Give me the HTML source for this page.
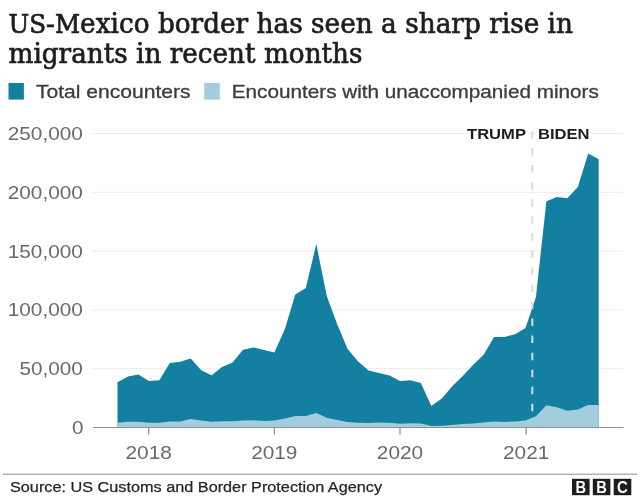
<!DOCTYPE html>
<html><head><meta charset="utf-8"><style>
html,body{margin:0;padding:0;background:#fff;}
body{width:640px;height:502px;overflow:hidden;position:relative;font-family:"Liberation Sans",sans-serif;}
svg{position:absolute;left:0;top:0}
svg text{font-family:"Liberation Sans",sans-serif;}
svg text.t{font-family:"DejaVu Serif","Liberation Serif",serif;font-size:27px;fill:#1e1e1e;stroke:#1e1e1e;stroke-width:0.7px}
</style></head><body>
<svg width="640" height="502" viewBox="0 0 640 502">
<text class="t" x="8.5" y="33" textLength="564.5" lengthAdjust="spacingAndGlyphs"><tspan font-size="25.2">US</tspan>-<tspan font-size="25.2">M</tspan>exico border has seen a sharp rise in</text>
<text class="t" x="8.5" y="62.8" textLength="354" lengthAdjust="spacingAndGlyphs">migrants in recent months</text>
<rect x="8.5" y="83" width="15.4" height="16.6" fill="#1380A1"/>
<text x="36" y="98.3" font-size="18.5" fill="#3c3c3c" stroke="#3c3c3c" stroke-width="0.3" textLength="154.5" lengthAdjust="spacingAndGlyphs">Total encounters</text>
<rect x="204.2" y="83" width="15.6" height="16.6" fill="#A3CDDC"/>
<text x="231.8" y="98.3" font-size="18.5" fill="#3c3c3c" stroke="#3c3c3c" stroke-width="0.3" textLength="367" lengthAdjust="spacingAndGlyphs">Encounters with unaccompanied minors</text>
<g stroke="#ececec" stroke-width="1"><line x1="92" x2="623" y1="133.5" y2="133.5"/><line x1="92" x2="623" y1="192.3" y2="192.3"/><line x1="92" x2="623" y1="251.1" y2="251.1"/><line x1="92" x2="623" y1="309.9" y2="309.9"/><line x1="92" x2="623" y1="368.7" y2="368.7"/></g>
<g font-size="18.4" fill="#6a6a6a">
<text x="7.8" y="140" textLength="75" lengthAdjust="spacingAndGlyphs">250,000</text>
<text x="7.8" y="198.8" textLength="75" lengthAdjust="spacingAndGlyphs">200,000</text>
<text x="7.8" y="257.6" textLength="75" lengthAdjust="spacingAndGlyphs">150,000</text>
<text x="7.8" y="316.4" textLength="75" lengthAdjust="spacingAndGlyphs">100,000</text>
<text x="19.5" y="375.2" textLength="63.3" lengthAdjust="spacingAndGlyphs">50,000</text>
<text x="72" y="434" textLength="11.5" lengthAdjust="spacingAndGlyphs">0</text>
</g>
<path d="M117.5,427.5 L117.5,382.3 L128.0,376.4 L138.4,374.6 L148.9,381.0 L159.3,380.2 L169.8,363.0 L180.3,361.8 L190.7,358.6 L201.2,370.3 L211.6,375.2 L222.1,366.9 L232.6,362.4 L243.0,349.7 L253.5,347.4 L264.0,349.9 L274.4,352.4 L284.9,329.0 L295.3,294.5 L305.8,287.9 L316.3,244.1 L326.7,295.7 L337.2,324.3 L347.6,348.9 L358.1,361.5 L368.6,370.6 L379.0,373.0 L389.5,375.5 L399.9,380.9 L410.4,380.3 L420.9,383.0 L431.3,406.1 L441.8,398.6 L452.2,386.3 L462.7,376.0 L473.2,364.7 L483.6,354.8 L494.1,336.9 L504.6,337.0 L515.0,334.3 L525.5,328.1 L535.9,297.2 L546.4,201.3 L556.9,196.9 L567.3,198.3 L577.8,187.1 L588.2,153.5 L598.7,159.2 L598.7,427.5 Z" fill="#1380A1"/>
<path d="M117.5,427.5 L117.5,422.7 L128.0,421.8 L138.4,421.7 L148.9,422.7 L159.3,422.8 L169.8,421.6 L180.3,421.4 L190.7,419.0 L201.2,420.5 L211.6,421.8 L222.1,421.3 L232.6,421.3 L243.0,420.6 L253.5,420.3 L264.0,420.9 L274.4,420.4 L284.9,418.4 L295.3,415.9 L305.8,416.0 L316.3,412.9 L326.7,417.8 L337.2,419.9 L347.6,422.1 L358.1,422.7 L368.6,423.1 L379.0,422.6 L389.5,422.7 L399.9,423.8 L410.4,423.3 L420.9,423.4 L431.3,426.1 L441.8,425.8 L452.2,425.0 L462.7,424.1 L473.2,423.4 L483.6,422.5 L494.1,421.6 L504.6,421.9 L515.0,421.4 L525.5,420.5 L535.9,416.2 L546.4,405.2 L556.9,407.3 L567.3,410.8 L577.8,409.5 L588.2,404.9 L598.7,405.0 L598.7,427.5 Z" fill="#A3CDDC"/>
<line x1="93" x2="623.5" y1="427.5" y2="427.5" stroke="#909090" stroke-width="1.1"/>
<g stroke="#8a8a8a" stroke-width="1.2"><line x1="148.7" x2="148.7" y1="427.5" y2="434.5"/><line x1="274.3" x2="274.3" y1="427.5" y2="434.5"/><line x1="400.0" x2="400.0" y1="427.5" y2="434.5"/><line x1="526.2" x2="526.2" y1="427.5" y2="434.5"/></g>
<g font-size="18.4" fill="#6a6a6a" text-anchor="middle">
<text x="148.7" y="459.4" textLength="46.3" lengthAdjust="spacingAndGlyphs">2018</text>
<text x="274.3" y="459.4" textLength="46.3" lengthAdjust="spacingAndGlyphs">2019</text>
<text x="400" y="459.4" textLength="46.3" lengthAdjust="spacingAndGlyphs">2020</text>
<text x="526.2" y="459.4" textLength="46.3" lengthAdjust="spacingAndGlyphs">2021</text>
</g>
<g font-size="14.8" font-weight="bold" fill="#1e1e1e" stroke="#fff" stroke-width="5" paint-order="stroke" stroke-linejoin="round">
<text x="467" y="139" textLength="59" lengthAdjust="spacingAndGlyphs">TRUMP</text>
<text x="538" y="139" textLength="51.5" lengthAdjust="spacingAndGlyphs">BIDEN</text>
</g>
<line x1="532.3" x2="532.3" y1="131" y2="411.5" stroke="#dadada" stroke-width="2" stroke-dasharray="7.5,9.55"/>
<line x1="3" x2="637" y1="474.3" y2="474.3" stroke="#b4b4b4" stroke-width="1.6"/>
<text x="10" y="491.6" font-size="15.4" fill="#262626" stroke="#262626" stroke-width="0.25" textLength="372" lengthAdjust="spacingAndGlyphs">Source: US Customs and Border Protection Agency</text>
<g>
<rect x="572" y="478.8" width="17.6" height="16.4" fill="#1e1e1e"/>
<rect x="592.8" y="478.8" width="17.6" height="16.4" fill="#1e1e1e"/>
<rect x="613.7" y="478.8" width="17.6" height="16.4" fill="#1e1e1e"/>
<g font-size="16.2" font-weight="bold" fill="#fff" text-anchor="middle">
<text x="580.8" y="493" textLength="10.6" lengthAdjust="spacingAndGlyphs">B</text><text x="601.6" y="493" textLength="10.6" lengthAdjust="spacingAndGlyphs">B</text><text x="622.5" y="493" textLength="10.8" lengthAdjust="spacingAndGlyphs">C</text>
</g></g>
</svg>
</body></html>
